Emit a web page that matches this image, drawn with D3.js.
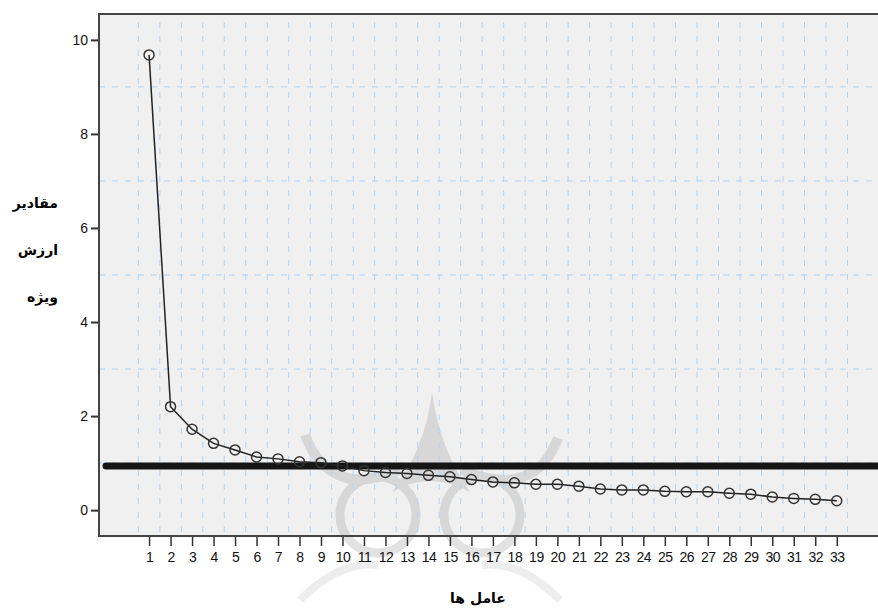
<!DOCTYPE html>
<html>
<head>
<meta charset="utf-8">
<script src="https://cdn.jsdelivr.net/npm/d3@7"></script>
<style>
  body { margin: 0; background: #fff; }
  svg text { font-family: "Liberation Sans", Arial, sans-serif; }
  .fa { font-family: "DejaVu Sans", sans-serif; font-weight: bold; }
</style>
</head>
<body>
<svg id="chart" width="878" height="609"></svg>
<script>
// scree plot data
var factors = d3.range(1, 34);
var eigenvalues = [9.68, 2.20, 1.72, 1.42, 1.28, 1.13, 1.09, 1.03, 1.01, 0.94,
                   0.84, 0.80, 0.78, 0.74, 0.71, 0.65, 0.60, 0.58, 0.55, 0.55,
                   0.51, 0.45, 0.43, 0.43, 0.40, 0.39, 0.39, 0.36, 0.34, 0.28,
                   0.25, 0.23, 0.20];
var yTicks = [0, 2, 4, 6, 8, 10];
var yGrid = [1, 3, 5, 7, 9];
var xGrid = d3.range(0.5, 34, 1);
var refValue = 0.94;
var yTitle = ["مقادیر", "ارزش", "ویژه"];
var xTitle = "عامل ها";

var svg = d3.select("#chart");
var plotLeft = 99, plotRight = 878, plotTop = 14, plotBottom = 536;

var x = d3.scaleLinear().domain([-1.33, 34.92]).range([plotLeft, plotRight]);
var y = d3.scaleLinear().domain([-0.55, 10.55]).range([plotBottom, plotTop]);

// plot background
svg.append("rect")
    .attr("x", plotLeft).attr("y", plotTop)
    .attr("width", plotRight - plotLeft).attr("height", plotBottom - plotTop)
    .attr("fill", "#f0f0f0");

// faint ornament watermark behind the data
var wm = svg.append("g").attr("fill", "none").attr("stroke", "#9a9a9a").attr("opacity", 0.28);
wm.append("circle").attr("cx", 378).attr("cy", 515).attr("r", 38).attr("stroke-width", 9);
wm.append("circle").attr("cx", 482).attr("cy", 515).attr("r", 38).attr("stroke-width", 9);
wm.append("path").attr("stroke", "none").attr("fill", "#9a9a9a")
    .attr("d", "M392,492 Q425,450 432,392 Q440,450 470,492 Q430,470 392,492Z");
wm.append("path").attr("stroke-width", 10)
    .attr("d", "M305,435 Q330,500 400,470");
wm.append("path").attr("stroke-width", 10)
    .attr("d", "M558,438 Q535,500 462,470");
wm.append("path").attr("stroke-width", 8).attr("opacity", 0.6)
    .attr("d", "M300,600 Q340,560 378,565 M560,600 Q520,560 482,565");

// grid
svg.append("g").selectAll("line").data(xGrid).enter().append("line")
    .attr("x1", d => x(d)).attr("x2", d => x(d))
    .attr("y1", plotTop + 8).attr("y2", plotBottom)
    .attr("stroke", "#b3d3f1")
    .attr("stroke-width", 1)
    .attr("stroke-dasharray", "6,8");

svg.append("g").selectAll("line").data(yGrid).enter().append("line")
    .attr("x1", plotLeft).attr("x2", plotRight)
    .attr("y1", d => y(d)).attr("y2", d => y(d))
    .attr("stroke", "#b3d3f1")
    .attr("stroke-width", 1)
    .attr("stroke-dasharray", "6,7");

// reference line
svg.append("line")
    .attr("x1", plotLeft + 7).attr("x2", plotRight + 10)
    .attr("y1", y(refValue)).attr("y2", y(refValue))
    .attr("stroke", "#151515")
    .attr("stroke-width", 7)
    .attr("stroke-linecap", "round");

// axes
var yAxis = d3.axisLeft(y).tickValues(yTicks).tickSize(8).tickPadding(3);
var gy = svg.append("g").attr("transform", "translate(" + plotLeft + ",0)").call(yAxis);
gy.select(".domain").remove();
gy.selectAll("line").attr("stroke", "#333").attr("stroke-width", 2);
gy.selectAll("text").attr("font-size", 14).attr("fill", "#111");

var xAxis = d3.axisBottom(x).tickValues(factors).tickSize(10).tickPadding(6);
var gx = svg.append("g").attr("transform", "translate(0," + plotBottom + ")").call(xAxis);
gx.select(".domain").remove();
gx.selectAll("line").attr("stroke", "#333").attr("stroke-width", 1.5);
gx.selectAll("text").attr("font-size", 14).attr("letter-spacing", -0.5).attr("fill", "#111");

// frame
svg.append("path")
    .attr("d", "M" + (plotRight + 1) + "," + plotTop + "H" + plotLeft + "V" + plotBottom + "H" + (plotRight + 1))
    .attr("fill", "none")
    .attr("stroke", "#444")
    .attr("stroke-width", 2);

// line and points
var line = d3.line()
    .x((d, i) => x(factors[i]))
    .y(d => y(d));

svg.append("path")
    .datum(eigenvalues)
    .attr("d", line)
    .attr("fill", "none")
    .attr("stroke", "#222")
    .attr("stroke-width", 1.5);

svg.append("g").selectAll("circle").data(eigenvalues).enter().append("circle")
    .attr("cx", (d, i) => x(factors[i]))
    .attr("cy", d => y(d))
    .attr("r", 5)
    .attr("fill", "none")
    .attr("stroke", "#333")
    .attr("stroke-width", 1.5);

// titles
svg.append("g").selectAll("text").data(yTitle).enter().append("text")
    .attr("class", "fa")
    .attr("x", 58)
    .attr("y", (d, i) => 208 + i * 47)
    .attr("text-anchor", "end")
    .attr("font-size", 14)
    .text(d => d);

svg.append("text")
    .attr("class", "fa")
    .attr("x", 478)
    .attr("y", 603)
    .attr("text-anchor", "middle")
    .attr("font-size", 14)
    .text(xTitle);
</script>
</body>
</html>
